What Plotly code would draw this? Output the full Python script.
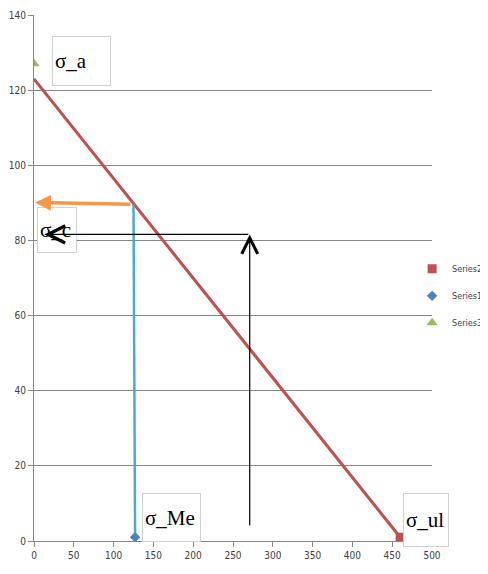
import plotly.graph_objects as go

# Data
line_x = [0, 460]
line_y = [123, 1]
s2_x, s2_y = [460], [1]        # Series2 (sigma_ul)
s1_x, s1_y = [127], [1]        # Series1 (sigma_Me)
s3_x, s3_y = [0], [127]        # Series3 (sigma_a)
blue_x = [127, 125]
blue_y = [1, 89.5]
orange_tail = (123, 89.6)
orange_head = (1.5, 90.1)
black_v_tail = (271, 3.7)
black_v_head = (271, 81.6)
black_h_tail = (271, 81.6)
black_h_head = (13, 81.6)
labels = ["σ_a", "σ_c", "σ_Me", "σ_ul"]
label_pos = [(60, 127.8), (29.5, 82.8), (172.7, 6.3), (492, 5.6)]
label_size = [(53, 44), (34, 40), (53, 43), (40, 48)]
x_ticks = [0, 50, 100, 150, 200, 250, 300, 350, 400, 450, 500]
y_ticks = [0, 20, 40, 60, 80, 100, 120, 140]

RED = "#C0504D"
BLUE = "#4F81BD"
LBLUE = "#4BACC6"
ORANGE = "#F79646"
GREEN = "#9BBB59"
TICKFONT = dict(family="Liberation Sans Narrow, DejaVu Sans Condensed, Liberation Sans", size=10, color="#404040")

fig = go.Figure()
fig.add_trace(go.Scatter(x=line_x, y=line_y, mode="lines", line=dict(color=RED, width=3),
                         showlegend=False, hoverinfo="skip"))
fig.add_trace(go.Scatter(x=blue_x, y=blue_y, mode="lines", line=dict(color=LBLUE, width=2.5),
                         showlegend=False, hoverinfo="skip"))
fig.add_trace(go.Scatter(x=s2_x, y=s2_y, mode="markers", name="Series2", legendgroup="a",
                         marker=dict(symbol="square", size=9, color=RED)))
fig.add_trace(go.Scatter(x=s1_x, y=s1_y, mode="markers", name="Series1", legendgroup="b",
                         marker=dict(symbol="diamond", size=8, color=BLUE)))
fig.add_trace(go.Scatter(x=s3_x, y=s3_y, mode="markers", name="Series3", legendgroup="c",
                         marker=dict(symbol="triangle-up", size=10, color=GREEN)))

annotations = []
for t, (px, py), (w, h) in zip(labels, label_pos, label_size):
    annotations.append(dict(x=px, y=py, xref="x", yref="y", text=t, showarrow=False,
                            font=dict(family="Liberation Serif, Times New Roman, serif", size=21, color="#000000"),
                            bordercolor="#D0D0D0", borderwidth=1, bgcolor="white",
                            width=w, height=h, align="left", valign="middle", borderpad=2))

# arrows
annotations.append(dict(x=orange_head[0], y=orange_head[1], ax=orange_tail[0], ay=orange_tail[1],
                        xref="x", yref="y", axref="x", ayref="y", text="", showarrow=True,
                        arrowhead=2, arrowsize=0.9, arrowwidth=3.5, arrowcolor=ORANGE))
annotations.append(dict(x=black_v_head[0], y=black_v_head[1], ax=black_v_tail[0], ay=black_v_tail[1],
                        xref="x", yref="y", axref="x", ayref="y", text="", showarrow=True,
                        arrowhead=5, arrowsize=2.6, arrowwidth=1.2, arrowcolor="#000000"))
annotations.append(dict(x=black_h_head[0], y=black_h_head[1], ax=black_h_tail[0], ay=black_h_tail[1],
                        xref="x", yref="y", axref="x", ayref="y", text="", showarrow=True,
                        arrowhead=5, arrowsize=2.8, arrowwidth=1.2, arrowcolor="#000000"))

fig.update_layout(
    width=480, height=566,
    margin=dict(l=26, r=56, t=7, b=33, autoexpand=False),
    paper_bgcolor="white", plot_bgcolor="white",
    annotations=annotations,
    showlegend=True,
    legend=dict(x=0.95, y=0.545, xanchor="left", yanchor="top",
                font=dict(family="Liberation Sans Narrow, DejaVu Sans Condensed, Liberation Sans", size=9, color="#404040"),
                tracegroupgap=8, bgcolor="rgba(0,0,0,0)"),
    xaxis=dict(range=[0, 500], tickvals=x_ticks, showgrid=False, zeroline=False, automargin=False,
               showline=True, linecolor="#868686", linewidth=1,
               ticks="outside", ticklen=5, tickcolor="#868686", tickfont=TICKFONT, fixedrange=True),
    yaxis=dict(range=[0, 140], tickvals=y_ticks, showgrid=True, gridcolor="#868686", gridwidth=1,
               zeroline=False, showline=True, linecolor="#868686", linewidth=1, automargin=False,
               ticks="outside", ticklen=5, tickcolor="#868686", tickfont=TICKFONT, fixedrange=True),
)

fig.write_html("out.html")
